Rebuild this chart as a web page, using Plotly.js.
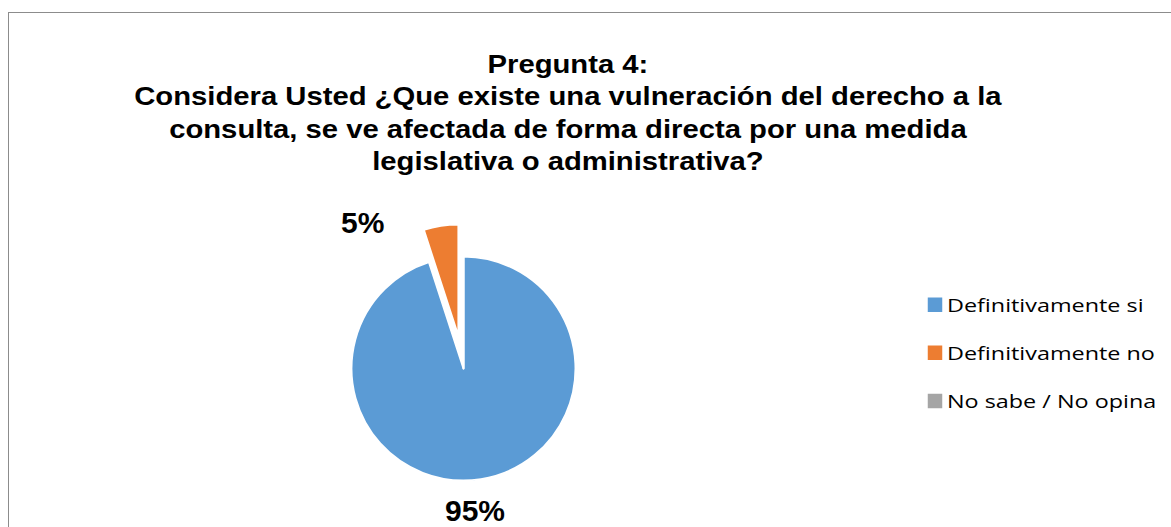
<!DOCTYPE html>
<html>
<head>
<meta charset="utf-8">
<script src="https://cdn.plot.ly/plotly-3.0.1.min.js"></script>
<style>
html,body{margin:0;padding:0;background:#fff;overflow:hidden;}
#wrap{position:relative;width:1171px;height:527px;}
#chart{position:absolute;left:0;top:0;width:1171px;height:527px;}
#frame{position:absolute;left:8px;top:12px;width:1300px;height:700px;border:1.5px solid #8c8c8c;pointer-events:none;}
</style>
</head>
<body>
<div id="wrap"><div id="chart"></div><div id="frame"></div></div>
<script>
var categories = ["Definitivamente si", "Definitivamente no", "No sabe / No opina"];
var values = [95, 5, 0];
var colors = ["#5B9BD5", "#ED7D31", "#A5A5A5"];
var pulls = [0, 0.29, 0];
var titleText = "Pregunta 4:<br>Considera Usted ¿Que existe una vulneración del derecho a la<br>consulta, se ve afectada de forma directa por una medida<br>legislativa o administrativa?";

var W = 1171, H = 527;
var total = values.reduce(function(a,b){return a+b;},0);
var pct = values.map(function(v){return Math.round(v/total*100) + "%";});

var trace = {
  type: "pie",
  labels: categories.map(function(c){return c + "<br> ";}),
  values: values,
  sort: false,
  direction: "clockwise",
  rotation: 0,
  pull: pulls,
  marker: {colors: colors, line: {color: "#ffffff", width: 2}},
  textinfo: "none",
  hoverinfo: "none",
  domain: {x: [319/W, 608/W], y: [1 - 513/H, 1 - 224/H]}
};

var labelPos = [[475, 510], [362, 223]];
var annotations = [];
for (var i = 0; i < 2; i++) {
  annotations.push({
    text: "<b>" + pct[i] + "</b>",
    xref: "paper", yref: "paper",
    x: labelPos[i][0]/W, y: 1 - labelPos[i][1]/H,
    xanchor: "center", yanchor: "middle",
    showarrow: false,
    font: {family: "Liberation Sans, Arial, sans-serif", size: 30, color: "#000"}
  });
}

var layout = {
  width: W, height: H,
  margin: {l: 0, r: 0, t: 0, b: 0},
  paper_bgcolor: "rgba(0,0,0,0)",
  plot_bgcolor: "rgba(0,0,0,0)",
  title: {
    text: "<b>" + titleText + "</b>",
    xref: "container", yref: "container",
    x: 568/W, y: 1 - 73/H, xanchor: "center", yanchor: "top",
    font: {family: "Liberation Sans, Arial, sans-serif", size: 25, color: "#000"}
  },
  showlegend: true,
  legend: {
    x: 915/W, y: 1 - 286/H, xanchor: "left", yanchor: "top",
    valign: "top",
    font: {family: "Open Sans, sans-serif", size: 18.7, color: "#000"},
    bgcolor: "rgba(0,0,0,0)"
  },
  annotations: annotations
};

Plotly.newPlot("chart", [trace], layout, {displayModeBar: false, staticPlot: true}).then(function(gd){
  var g = gd.querySelector(".g-gtitle");
  if (g) {
    g.style.transformBox = "fill-box";
    g.style.transformOrigin = "center";
    g.style.transform = "scaleX(1.17)";
  }
  gd.querySelectorAll(".legend, .legend *").forEach(function(e){
    if (e.hasAttribute("clip-path")) e.removeAttribute("clip-path");
  });
  gd.querySelectorAll(".legendtext").forEach(function(t){
    t.style.transformBox = "fill-box";
    t.style.transformOrigin = "left center";
    t.style.transform = "translateX(-8px) scaleX(1.25)";
  });
  gd.querySelectorAll(".legendpoints path").forEach(function(p){
    var tr = p.getAttribute("transform") || "";
    p.setAttribute("transform", tr + " scale(1.45)");
  });
  var items = gd.querySelectorAll(".legend .traces");
  var y0 = null;
  items.forEach(function(it){
    var tr = it.getAttribute("transform") || "";
    var m = tr.match(/translate\(\s*([-\d.e]+)[ ,]+([-\d.e]+)\s*\)/);
    if (!m) return;
    var x = parseFloat(m[1]), y = parseFloat(m[2]);
    if (y0 === null) y0 = y;
    it.setAttribute("transform", "translate(" + x + "," + (y0 + (y - y0) * (48.5/52)) + ")");
  });
});
</script>
</body>
</html>
